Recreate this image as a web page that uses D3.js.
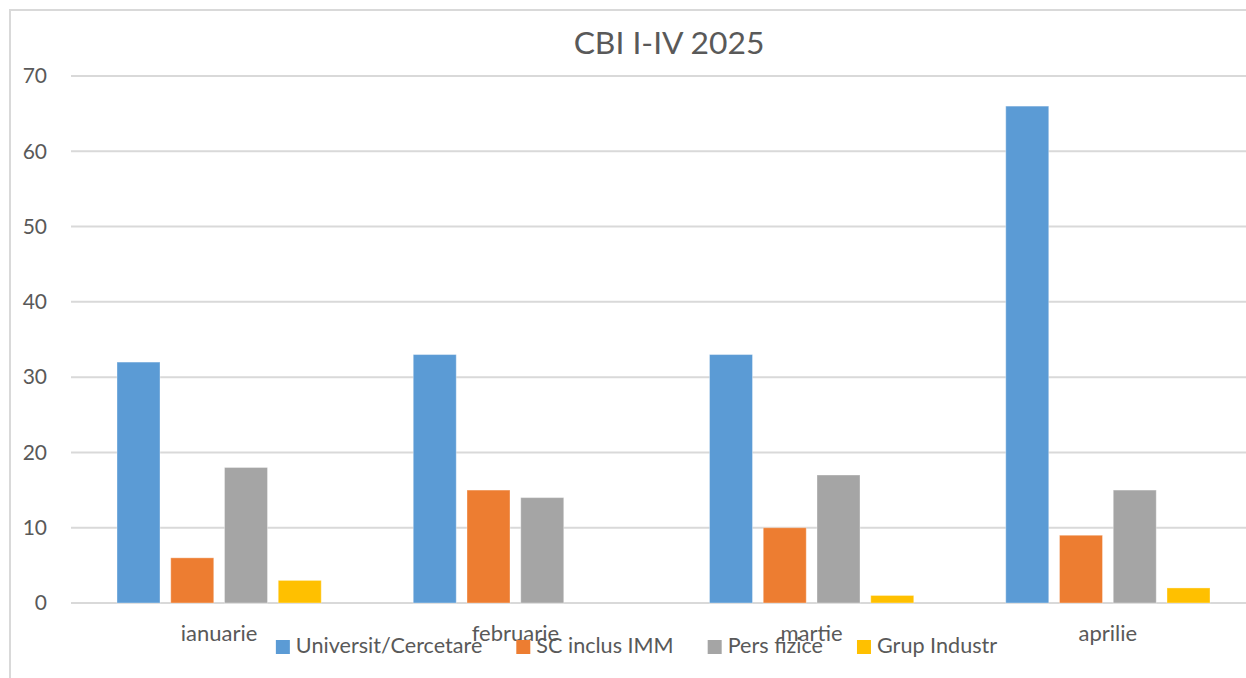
<!DOCTYPE html>
<html>
<head>
<meta charset="utf-8">
<script src="https://cdn.jsdelivr.net/npm/d3@7"></script>
<style>
body{margin:0;background:#fff;}
svg{display:block;font-family:Lato,"Open Sans",sans-serif;}
</style>
</head>
<body>
<svg width="1246" height="678"></svg>
<script>
var months = ["ianuarie","februarie","martie","aprilie"];
var seriesNames = ["Universit/Cercetare","SC inclus IMM","Pers fizice","Grup Industr"];
var universit = [32,33,33,66];
var scInclus = [6,15,10,9];
var persFizice = [18,14,17,15];
var grupIndustr = [3,0,1,2];
var yTicks = [0,10,20,30,40,50,60,70];
var colors = ["#5B9BD5","#ED7D31","#A5A5A5","#FFC000"];

var series = [universit,scInclus,persFizice,grupIndustr];
var svg = d3.select("svg");
var textColor = "#595959";

// chart border (cropped on right and bottom)
svg.append("rect")
	.attr("x",10).attr("y",10)
	.attr("width",1400).attr("height",800)
	.attr("fill","#fff")
	.attr("stroke","#d9d9d9")
	.attr("stroke-width",2);

var x0 = d3.scaleBand().domain(months).range([71,1256]).paddingInner(0).paddingOuter(0);
var x1 = d3.scaleBand().domain(d3.range(4))
	.range([46, x0.bandwidth()-46]).paddingInner(0.2).paddingOuter(0);
var y = d3.scaleLinear().domain([0,70]).range([603,76]);

// gridlines
svg.append("g").selectAll("line").data(yTicks).join("line")
	.attr("x1",71).attr("x2",1256)
	.attr("y1",function(d){return y(d);}).attr("y2",function(d){return y(d);})
	.attr("stroke","#d9d9d9").attr("stroke-width",2);

// y axis labels
var yAxis = d3.axisLeft(y).tickValues(yTicks).tickSize(0).tickPadding(24);
var ya = svg.append("g").attr("transform","translate(71,0)").call(yAxis);
ya.select(".domain").remove();
ya.selectAll("text").attr("fill",textColor).style("font-size","21px").style("font-family","Lato");

// bars
var groups = svg.append("g").selectAll("g").data(months).join("g")
	.attr("transform",function(d){return "translate("+x0(d)+",0)";});
groups.selectAll("rect")
	.data(function(d,i){return series.map(function(s,k){return {k:k,v:s[i]};});})
	.join("rect")
	.filter(function(d){return d.v>0;})
	.attr("x",function(d){return x1(d.k);})
	.attr("width",x1.bandwidth())
	.attr("y",function(d){return y(d.v);})
	.attr("height",function(d){return y(0)-y(d.v);})
	.attr("fill",function(d){return colors[d.k];})
	.attr("stroke","#fff").attr("stroke-opacity",0.35).attr("stroke-width",1);

// category labels
var xAxis = d3.axisBottom(x0).tickSize(0).tickPadding(0);
var xa = svg.append("g").attr("transform","translate(0,620)").call(xAxis);
xa.select(".domain").remove();
xa.selectAll("text").attr("fill",textColor).attr("dy","0").attr("y",21)
	.style("font-size","22px").style("font-family","Lato");

// title
svg.append("text")
	.attr("x",669).attr("y",54)
	.attr("text-anchor","middle")
	.attr("fill",textColor)
	.style("font-size","31.8px")
	.text("CBI I-IV 2025");

// legend
var legend = svg.append("g");
var items = legend.selectAll("g").data(seriesNames).join("g");
items.append("rect").attr("width",14).attr("height",14).attr("y",640)
	.attr("fill",function(d,i){return colors[i];});
items.append("text").attr("x",20).attr("y",653)
	.attr("fill",textColor).style("font-size","21.6px").text(function(d){return d;});
var widths = [];
items.each(function(){ widths.push(d3.select(this).select("text").node().getComputedTextLength()); });
var total = d3.sum(widths) + widths.length*20 + (widths.length-1)*34;
var pos = 636.5 - total/2;
items.attr("transform",function(d,i){
	var p = pos; pos += 20 + widths[i] + 34;
	return "translate("+p+",0)";
});
</script>
</body>
</html>
